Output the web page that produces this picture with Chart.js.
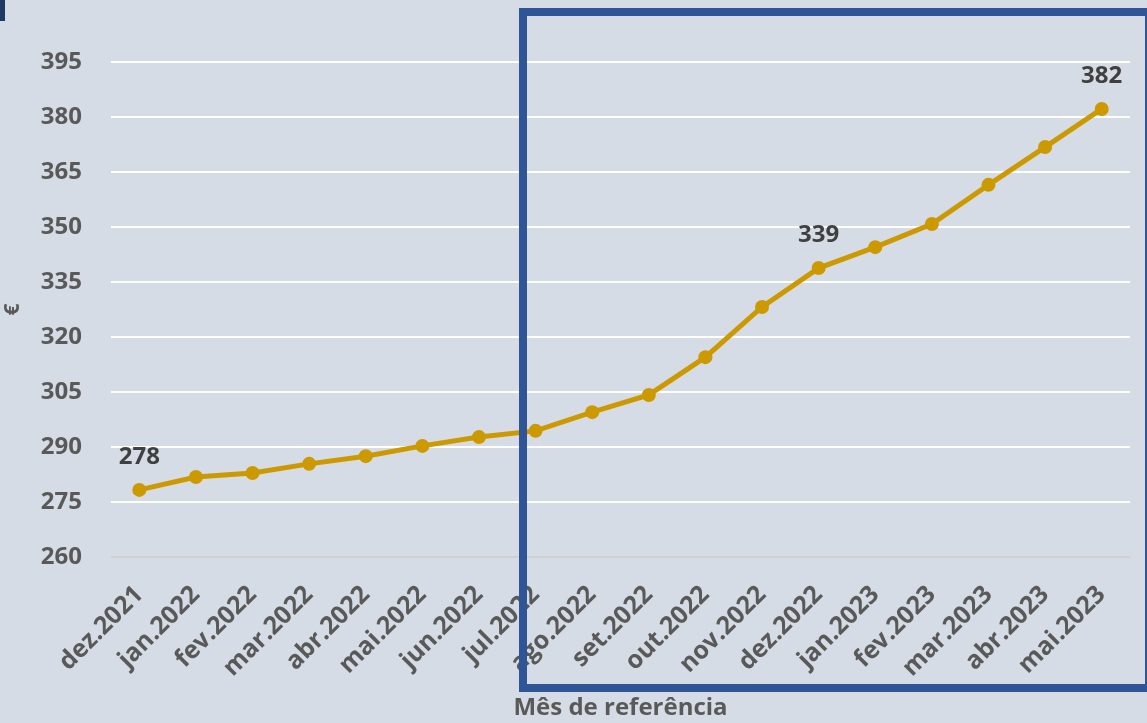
<!DOCTYPE html>
<html>
<head>
<meta charset="utf-8">
<script src="https://cdn.jsdelivr.net/npm/chart.js@4/dist/chart.umd.min.js"></script>
<style>
	html, body { margin: 0; padding: 0; background: #d6dce5; }
	#wrap { width: 1147px; height: 723px; position: relative; }
</style>
</head>
<body>
<div id="wrap"><canvas id="chart"></canvas></div>
<script>
const MONTHS = [
	"dez.2021", "jan.2022", "fev.2022", "mar.2022", "abr.2022", "mai.2022",
	"jun.2022", "jul.2022", "ago.2022", "set.2022", "out.2022", "nov.2022",
	"dez.2022", "jan.2023", "fev.2023", "mar.2023", "abr.2023", "mai.2023",
];
const VALUES = [
	278.3, 281.8, 282.9, 285.4, 287.5, 290.3, 292.7, 294.4, 299.5,
	304.2, 314.5, 328.2, 338.8, 344.5, 350.8, 361.5, 371.8, 382.2,
];
const LABELLED = [0, 12, 17];
const Y_MIN = 260;
const Y_MAX = 395;
const Y_STEP = 15;

const FONT = "'Open Sans', Lato, sans-serif";
const GOLD = "#cc9a00";

const backdrop = {
	id: "backdrop",
	beforeDraw(chart) {
		const { ctx, width, height } = chart;
		ctx.save();
		ctx.fillStyle = "#d6dce5";
		ctx.fillRect(0, 0, width, height);
		ctx.restore();
	},
	afterDraw(chart) {
		const { ctx } = chart;
		ctx.save();
		// small dark marker in the corner
		ctx.fillStyle = "#1f3864";
		ctx.fillRect(0, 0, 5, 21);
		// highlight frame
		ctx.strokeStyle = "#2f5597";
		ctx.lineWidth = 8;
		ctx.strokeRect(523, 12, 626, 676);
		ctx.restore();
	},
};

const pointLabels = {
	id: "pointLabels",
	afterDatasetsDraw(chart) {
		const { ctx } = chart;
		const meta = chart.getDatasetMeta(0);
		ctx.save();
		ctx.font = `bold 24px ${FONT}`;
		ctx.fillStyle = "#404040";
		ctx.textAlign = "center";
		ctx.textBaseline = "middle";
		for (const i of LABELLED) {
			const pt = meta.data[i];
			ctx.fillText(Math.round(VALUES[i]).toString(), pt.x, pt.y - 33);
		}
		ctx.restore();
	},
};

new Chart(document.getElementById("chart"), {
	type: "line",
	data: {
		labels: MONTHS,
		datasets: [{
			data: VALUES,
			borderColor: GOLD,
			backgroundColor: GOLD,
			borderWidth: 5,
			pointRadius: 7,
			pointBackgroundColor: GOLD,
			pointBorderWidth: 0,
			tension: 0,
		}],
	},
	options: {
		responsive: true,
		maintainAspectRatio: false,
		animation: false,
		layout: { padding: { top: 62, right: 17, left: 0, bottom: 0 } },
		plugins: { legend: { display: false }, tooltip: { enabled: false } },
		scales: {
			x: {
				offset: true,
				grid: { display: false },
				border: { display: false },
				ticks: {
					color: "#595959",
					font: { family: FONT, size: 25, weight: "bold" },
					minRotation: 45,
					maxRotation: 45,
					padding: 15,
					autoSkip: false,
				},
				title: {
					display: true,
					text: "Mês de referência",
					color: "#595959",
					font: { family: FONT, size: 24, weight: "bold" },
					padding: { top: 0, bottom: 0 },
				},
				afterFit: (s) => { s.height = 166; },
			},
			y: {
				min: Y_MIN,
				max: Y_MAX,
				border: { display: false },
				grid: {
					drawTicks: false,
					lineWidth: 2,
					color: (c) => (c.tick && c.tick.value === Y_MIN ? "#d0d0d0" : "#ffffff"),
				},
				ticks: {
					stepSize: Y_STEP,
					color: "#595959",
					font: { family: FONT, size: 24, weight: "bold" },
					padding: 29,
				},
				title: {
					display: true,
					text: "€",
					color: "#595959",
					font: { family: FONT, size: 21, weight: "bold" },
					padding: { top: 0, bottom: 0 },
				},
				afterFit: (s) => { s.width = 111; },
			},
		},
	},
	plugins: [backdrop, pointLabels],
});
</script>
</body>
</html>
